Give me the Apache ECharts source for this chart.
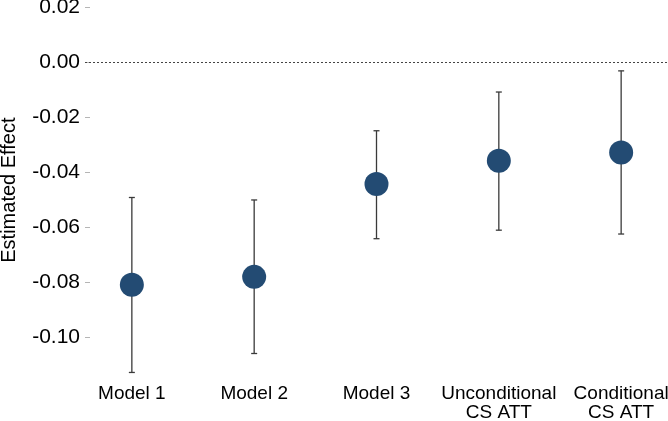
<!DOCTYPE html>
<html>
<head>
<meta charset="utf-8">
<script src="https://cdn.jsdelivr.net/npm/echarts@6/dist/echarts.min.js"></script>
<style>
html,body{margin:0;padding:0;background:#fff;}
#chart{width:668px;height:421px;}
</style>
</head>
<body>
<div id="chart"></div>
<script>
const categories = ['Model 1', 'Model 2', 'Model 3', 'Unconditional\nCS ATT', 'Conditional\nCS ATT'];
const estimates = [-0.0809, -0.0780, -0.0442, -0.0357, -0.0327];
const lowerCI = [-0.1128, -0.1059, -0.0641, -0.0610, -0.0624];
const upperCI = [-0.0491, -0.0500, -0.0248, -0.0107, -0.0030];
const yTicks = [-0.10, -0.08, -0.06, -0.04, -0.02, 0.00, 0.02];
const xTicks = [1, 2, 3, 4, 5];

const pointData = estimates.map((v, i) => [xTicks[i], v]);
const ciData = estimates.map((v, i) => [xTicks[i], lowerCI[i], upperCI[i]]);

const chart = echarts.init(document.getElementById('chart'), null, {renderer: 'canvas'});
const font = 'Liberation Sans, Arial, Helvetica, sans-serif';

chart.setOption({
  animation: false,
  backgroundColor: '#ffffff',
  grid: {left: 85, right: 0, top: 7.7, bottom: 42.5, containLabel: false, outerBoundsMode: 'none'},
  xAxis: {
    type: 'value',
    min: 0.617,
    max: 5.383,
    axisLine: {show: false},
    axisTick: {show: false},
    splitLine: {show: false},
    axisLabel: {
      customValues: xTicks,
      formatter: v => categories[Math.round(v) - 1] || '',
      fontFamily: font,
      fontSize: 19,
      lineHeight: 19,
      color: '#000',
      margin: 6,
      verticalAlign: 'top'
    }
  },
  yAxis: {
    type: 'value',
    min: -0.115,
    max: 0.02,
    name: 'Estimated Effect',
    nameLocation: 'middle',
    nameGap: 66,
    nameRotate: 90,
    nameTextStyle: {fontFamily: font, fontSize: 20, color: '#000', padding: [0, 0, 0, 6]},
    axisLine: {show: false},
    splitLine: {show: false},
    axisTick: {
      show: true,
      inside: true,
      length: 5,
      customValues: yTicks,
      lineStyle: {color: '#b5b5b5', width: 1}
    },
    axisLabel: {
      customValues: yTicks,
      formatter: v => (Math.abs(v) < 1e-9 ? 0 : v).toFixed(2),
      fontFamily: font,
      fontSize: 21,
      color: '#000',
      margin: 5
    }
  },
  series: [
    {
      type: 'custom',
      data: ciData,
      encode: {x: 0, y: [1, 2]},
      z: 2,
      renderItem: function (params, api) {
        const x = api.value(0);
        const lo = api.coord([x, api.value(1)]);
        const hi = api.coord([x, api.value(2)]);
        const cap = 3;
        const style = {stroke: '#3a3a3a', lineWidth: 1.3, fill: null};
        return {
          type: 'group',
          children: [
            {type: 'line', shape: {x1: lo[0], y1: lo[1], x2: hi[0], y2: hi[1]}, style: style},
            {type: 'line', shape: {x1: lo[0] - cap, y1: lo[1], x2: lo[0] + cap, y2: lo[1]}, style: style},
            {type: 'line', shape: {x1: hi[0] - cap, y1: hi[1], x2: hi[0] + cap, y2: hi[1]}, style: style}
          ]
        };
      }
    },
    {
      type: 'scatter',
      data: pointData,
      symbol: 'circle',
      symbolSize: 24,
      z: 3,
      itemStyle: {color: '#234b73', opacity: 1},
      markLine: {
        silent: true,
        symbol: ['none', 'none'],
        label: {show: false},
        lineStyle: {color: '#444', type: [2, 2], width: 1},
        data: [{yAxis: 0}]
      }
    }
  ]
});
</script>
</body>
</html>
